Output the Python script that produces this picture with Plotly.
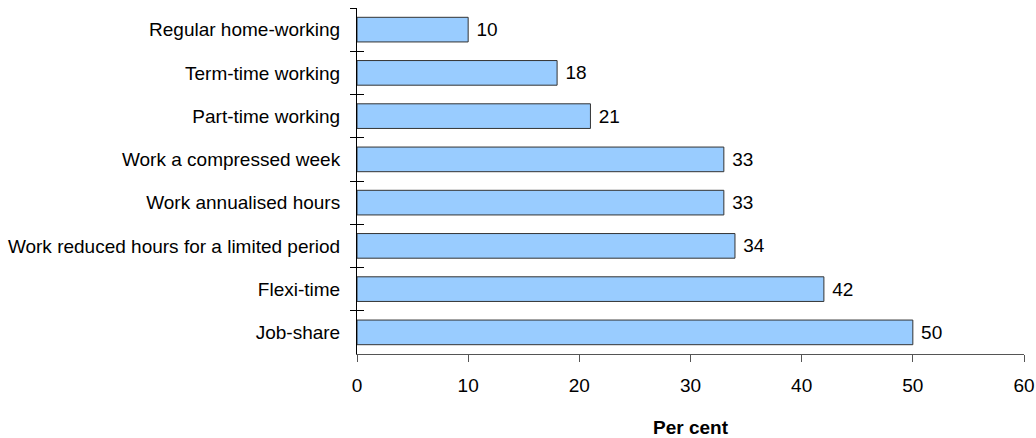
import plotly.graph_objects as go

categories = ["Regular home-working", "Term-time working", "Part-time working",
              "Work a compressed week", "Work annualised hours",
              "Work reduced hours for a limited period", "Flexi-time", "Job-share"]
values = [10, 18, 21, 33, 33, 34, 42, 50]
x_ticks = [0, 10, 20, 30, 40, 50, 60]
x_title = "Per cent"

FONT = "Liberation Sans, Arial, sans-serif"
FS = 19

fig = go.Figure()
fig.add_trace(go.Bar(
    y=categories, x=values, orientation="h",
    marker=dict(color="#99CCFF", line=dict(color="#333333", width=1)),
    text=[str(v) for v in values], texttemplate=" %{text}", textposition="outside",
    textfont=dict(family=FONT, size=FS, color="#000000"),
    cliponaxis=False, showlegend=False, hoverinfo="skip",
))
# helper trace to draw crossing ticks on the category axis
fig.add_trace(go.Bar(
    y=categories, x=values, orientation="h", yaxis="y2",
    marker=dict(color="rgba(0,0,0,0)", line=dict(width=0)),
    showlegend=False, hoverinfo="skip",
))

fig.update_layout(
    width=1036, height=438,
    margin=dict(l=357, r=12, t=8, b=84, autoexpand=False),
    paper_bgcolor="white", plot_bgcolor="white",
    font=dict(family=FONT, size=FS, color="#000000"),
    bargap=0.43,
    xaxis=dict(
        range=[0, 60], tickvals=x_ticks, ticktext=[str(t) for t in x_ticks],
        showgrid=False, zeroline=False, showline=True, linecolor="#555555", linewidth=1,
        ticks="outside", ticklen=7, tickcolor="#555555", ticklabelstandoff=7,
        tickfont=dict(size=FS), automargin=False,
        title=dict(text="<b>" + x_title + "</b>", font=dict(size=FS), standoff=25),
    ),
    yaxis=dict(
        type="category", categoryorder="array", categoryarray=categories,
        autorange="reversed", showgrid=False, zeroline=False,
        showline=True, linecolor="#000000", linewidth=1,
        ticks="outside", ticklen=6, tickcolor="#000000", tickson="boundaries",
        ticklabelstandoff=12, tickfont=dict(size=FS), automargin=False,
    ),
    yaxis2=dict(
        type="category", categoryorder="array", categoryarray=categories,
        autorange="reversed", overlaying="y", side="left",
        showgrid=False, zeroline=False, showline=False,
        ticks="inside", ticklen=7, tickcolor="#000000", tickson="boundaries",
        showticklabels=False, automargin=False,
    ),
)

fig.write_html(
    "out.html",
    config={"displayModeBar": False, "staticPlot": True},
    post_script="document.body.style.margin='0';document.body.style.overflow='hidden';",
)
